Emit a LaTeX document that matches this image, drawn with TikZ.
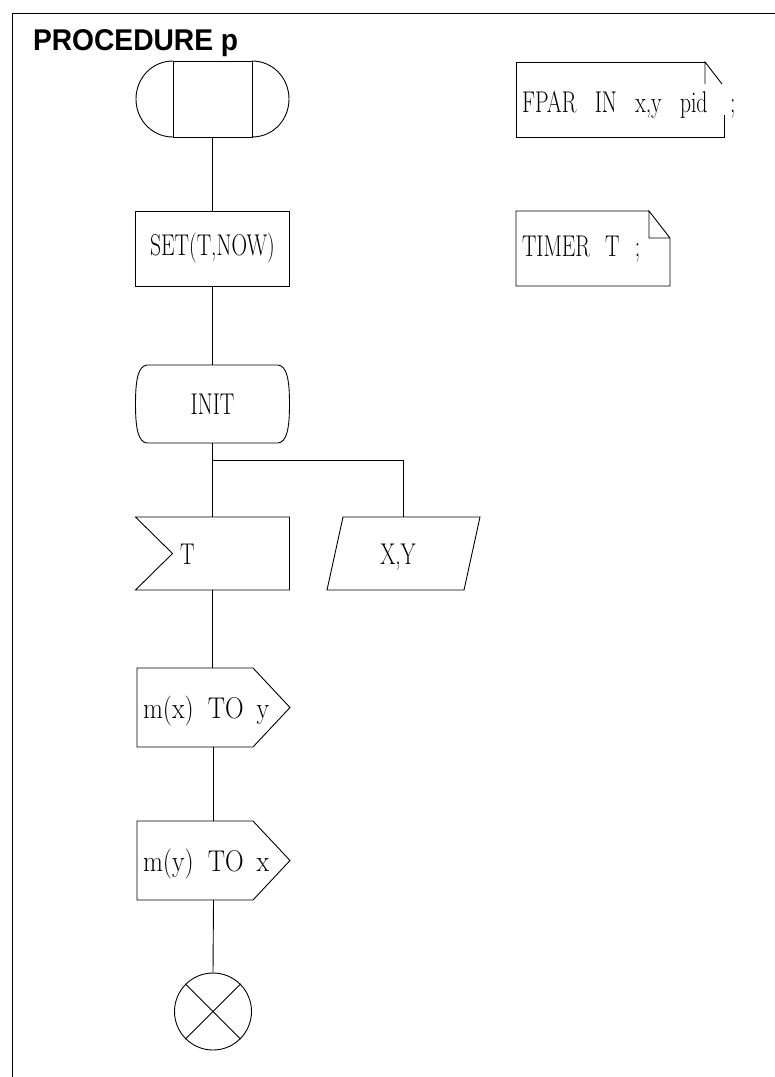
\documentclass[tikz,border=0pt]{standalone}
\usepackage{fontspec}
\usepackage{graphicx}
\newfontfamily\titlefont{Liberation Sans}
\newcommand{\sdltxt}[1]{\scalebox{0.72}[1]{\fontsize{30}{32}\selectfont #1}}
\newcommand{\sdlwide}[1]{\scalebox{0.86}[1]{\fontsize{30}{32}\selectfont #1}}
\tikzset{
  ln/.style={line width=0.9pt, black},
  shp/.style={inner sep=0pt, outer sep=0pt, minimum width=154pt, minimum height=75pt},
  lbl/.style={inner sep=0pt, outer sep=0pt},
}
\begin{document}
\begin{tikzpicture}[x=1pt,y=-1pt]
\useasboundingbox (0,0) rectangle (775,1077);
% frame
\draw[ln] (12,1077) -- (12,13) -- (775,13);
% title
\node[lbl, anchor=base west] (title) at (33,50) {\scalebox{0.94}[1]{\titlefont\bfseries\fontsize{30}{32}\selectfont PROCEDURE p}};

% start symbol
\node[shp, minimum width=79pt, minimum height=76pt, draw, ln] (start) at (212.5,99) {};
\draw[ln] (start.north west) .. controls (152.1,61) and (136,78) .. (136,99) .. controls (136,120) and (152.1,137) .. (start.south west);
\draw[ln] (start.north east) .. controls (272.9,61) and (289,78) .. (289,99) .. controls (289,120) and (272.9,137) .. (start.south east);

% task
\node[shp, draw, ln] (set) at (212.5,248.5) {\sdltxt{SET(T,NOW)}};

% procedure call / INIT
\node[shp, minimum height=78pt] (init) at (212.5,404) {\sdltxt{INIT}};
\draw[ln] (147,365) -- (278,365) .. controls (287,366) and (289.5,380) .. (289.5,404) .. controls (289.5,428) and (287,442) .. (278,443) -- (147,443) .. controls (138,442) and (135.5,428) .. (135.5,404) .. controls (135.5,380) and (138,366) .. (147,365) -- cycle;

% input T
\node[shp, minimum height=73pt] (tin) at (212.5,553.5) {};
\draw[ln] (tin.north west) -- (tin.north east) -- (tin.south east) -- (tin.south west) -- ([xshift=37pt]tin.west) -- cycle;
\node[lbl, anchor=base west] (tintxt) at (180,564) {\sdltxt{T}};

% X,Y parallelogram
\node[shp, minimum width=153pt, minimum height=73pt] (xy) at (403.5,553.5) {};
\draw[ln] ([xshift=16pt]xy.north west) -- (xy.north east) -- ([xshift=-16pt]xy.south east) -- (xy.south west) -- cycle;
\node[lbl, anchor=base] (xytxt) at (398,564) {\sdltxt{X,Y}};

% outputs
\node[shp, minimum width=153pt, minimum height=79pt] (out1) at (213.5,707.5) {};
\draw[ln] (out1.north west) -- ([xshift=-37pt]out1.north east) -- (out1.east) -- ([xshift=-37pt]out1.south east) -- (out1.south west) -- cycle;
\node[lbl, anchor=base west] (out1txt) at (143,718) {\sdlwide{m(x)\hspace{0.55em}TO\hspace{0.5em}y}};

\node[shp, minimum width=153pt, minimum height=79pt] (out2) at (213.5,860.5) {};
\draw[ln] (out2.north west) -- ([xshift=-37pt]out2.north east) -- (out2.east) -- ([xshift=-37pt]out2.south east) -- (out2.south west) -- cycle;
\node[lbl, anchor=base west] (out2txt) at (143,871) {\sdlwide{m(y)\hspace{0.55em}TO\hspace{0.5em}x}};

% end
\node[circle, draw, ln, minimum size=77pt, inner sep=0pt] (end) at (213,1011.5) {};
\draw[ln] (end.45) -- (end.225);
\draw[ln] (end.135) -- (end.-45);

% connectors
\draw[ln] (start.south) -- (set.north);
\draw[ln] (set.south) -- (init.north);
\draw[ln] (init.south) -- (tin.north);
\coordinate (br) at (212.5,460);
\draw[ln] (br) -| (xy.north);
\draw[ln] (tin.south) -- (tin.south |- out1.north);
\draw[ln] (out1.south) -- (out2.north);
\draw[ln] (out2.south) -- (end.north);

% text symbols
\node[shp, minimum width=208pt, minimum height=75pt] (fpar) at (620,99.5) {};
\draw[ln] ([xshift=-19pt]fpar.north east) -- (fpar.north west) -- (fpar.south west) -- (fpar.south east) -- ([yshift=22pt]fpar.south east);
\draw[ln] ([xshift=-19pt,yshift=-22pt]fpar.north east) -- ([xshift=-19pt]fpar.north east) -- ([xshift=-2pt,yshift=-22pt]fpar.north east);
\node[lbl, anchor=base west] (fpartxt) at (522,112) {\sdltxt{FPAR\hspace{0.85em}IN\hspace{0.85em}x,y\hspace{0.85em}pid\hspace{1.05em};}};

\node[shp, minimum width=154pt, minimum height=75pt] (timer) at (593,248.5) {};
\draw[ln] ([xshift=-21pt]timer.north east) -- (timer.north west) -- (timer.south west) -- (timer.south east) -- ([yshift=-27pt]timer.north east) -- ([xshift=-21pt]timer.north east) -- ([xshift=-21pt,yshift=-27pt]timer.north east) -- ([yshift=-27pt]timer.north east);
\node[lbl, anchor=base west] (timertxt) at (522,256) {\sdltxt{TIMER\hspace{0.7em}T\hspace{0.7em};}};
\end{tikzpicture}
\end{document}
